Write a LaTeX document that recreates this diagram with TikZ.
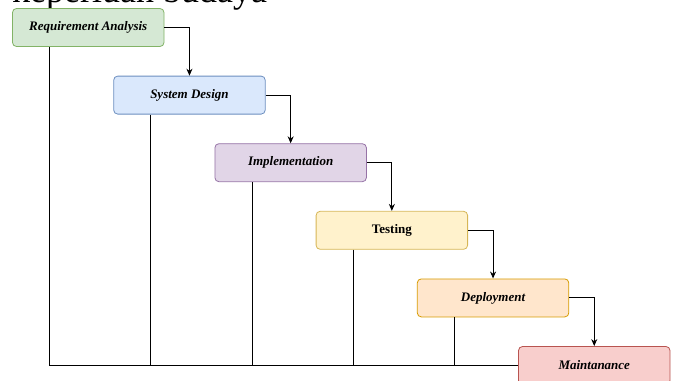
\documentclass[tikz,border=0pt]{standalone}
\usepackage{fontspec}
\setmainfont{Liberation Serif}
\usepackage{tikz}
\usetikzlibrary{calc,arrows.meta}

\definecolor{reqfill}{HTML}{D5E8D4}\definecolor{reqline}{HTML}{82B366}
\definecolor{desfill}{HTML}{DAE8FC}\definecolor{desline}{HTML}{6C8EBF}
\definecolor{impfill}{HTML}{E1D5E7}\definecolor{impline}{HTML}{9673A6}
\definecolor{tesfill}{HTML}{FFF2CC}\definecolor{tesline}{HTML}{D6B656}
\definecolor{depfill}{HTML}{FFE6CC}\definecolor{depline}{HTML}{D79B00}
\definecolor{mntfill}{HTML}{F8CECC}\definecolor{mntline}{HTML}{B85450}

\tikzset{
	phase/.style={draw, line width=0.8pt, rounded corners=4pt, minimum width=151.5pt, minimum height=38pt, inner sep=0pt, font=\fontsize{13}{15}\selectfont\bfseries\itshape},
	flow/.style={line width=0.9pt, -{Stealth[length=7pt,width=6pt]}},
	rail/.style={line width=0.9pt}
}

\begin{document}
\begin{tikzpicture}[x=1pt,y=-1pt]
			%%%%% START %%%%%
			
			\clip (0,0) rectangle (677,380);
			\useasboundingbox (0,0) rectangle (677,380);
			
			\node[anchor=base west, inner sep=0pt, font=\fontsize{36}{40}\selectfont] (title) at (12,2.5) {keperluan budaya};
			
			\node[phase, fill=reqfill, draw=reqline] (req) at (88.25, 27.5) {Requirement Analysis};
			\node[phase, fill=desfill, draw=desline] (des) at (189.45, 95.1) {System Design};
			\node[phase, fill=impfill, draw=impline] (imp) at (290.65, 162.7) {Implementation};
			\node[phase, fill=tesfill, draw=tesline, font=\fontsize{13}{15}\selectfont\bfseries] (tes) at (391.85, 230.3) {Testing};
			\node[phase, fill=depfill, draw=depline] (dep) at (493.05, 297.9) {Deployment};
			\node[phase, fill=mntfill, draw=mntline] (mnt) at (594.25, 365.5) {Maintanance};
			
			\draw[flow] (req.east) -| (des.north);
			\draw[flow] (des.east) -| (imp.north);
			\draw[flow] (imp.east) -| (tes.north);
			\draw[flow] (tes.east) -| (dep.north);
			\draw[flow] (dep.east) -| (mnt.north);
			
			\draw[rail] ($(req.south west)+(37.5,0)$) coordinate (r0) -- (r0 |- mnt.west) -- (mnt.west);
			\draw[rail] ($(des.south west)+(37.5,0)$) coordinate (r1) -- (r1 |- mnt.west);
			\draw[rail] ($(imp.south west)+(37.5,0)$) coordinate (r2) -- (r2 |- mnt.west);
			\draw[rail] ($(tes.south west)+(37.5,0)$) coordinate (r3) -- (r3 |- mnt.west);
			\draw[rail] ($(dep.south west)+(37.5,0)$) coordinate (r4) -- (r4 |- mnt.west);
			
			%%%%% END %%%%%
		\end{tikzpicture}
\end{document}
